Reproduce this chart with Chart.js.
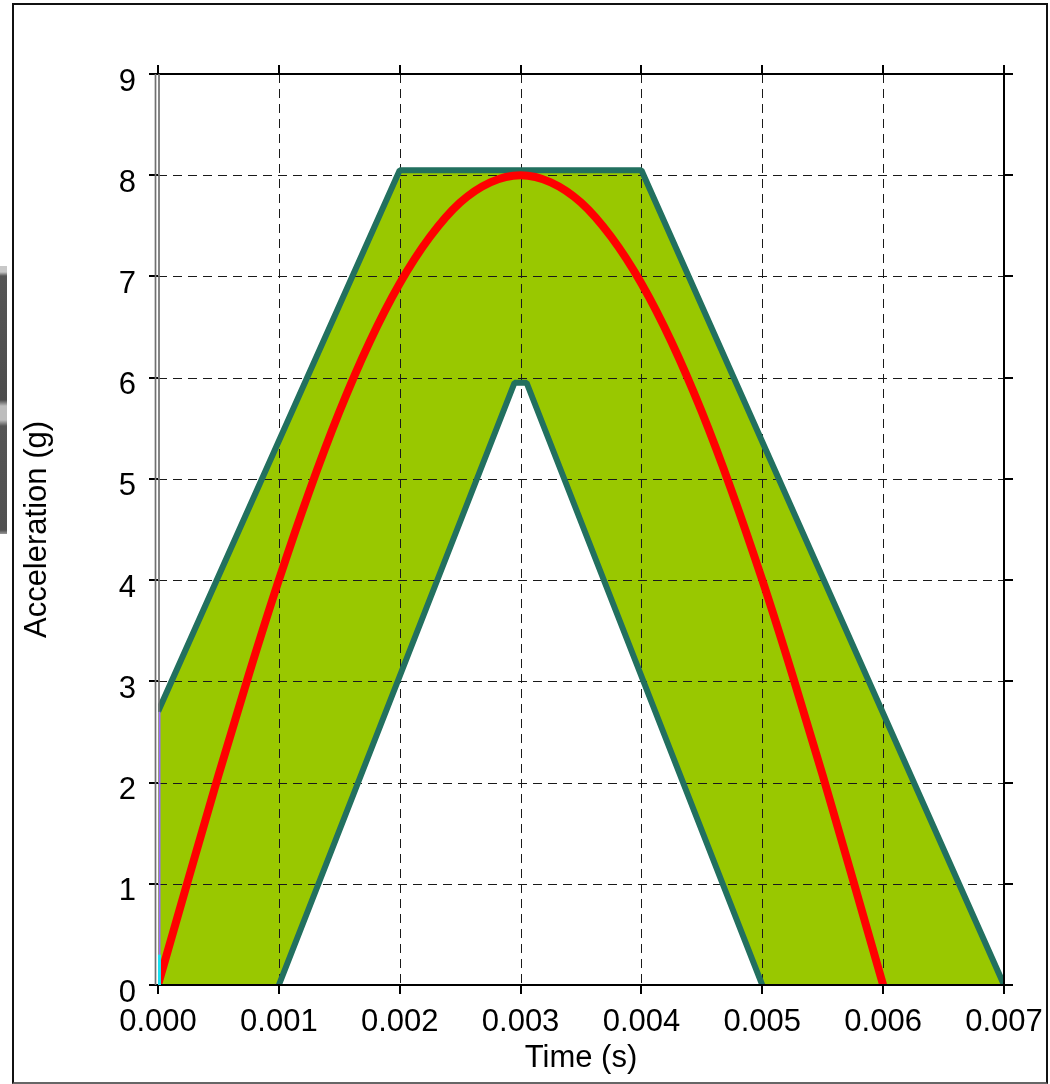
<!DOCTYPE html>
<html>
<head>
<meta charset="utf-8">
<script src="https://cdn.jsdelivr.net/npm/chart.js@4/dist/chart.umd.min.js"></script>
<style>
  html, body { margin:0; padding:0; background:#fff; width:1050px; height:1084px; overflow:hidden; }
  #wrap { position:absolute; left:0; top:0; width:1050px; height:1084px; }
  canvas { position:absolute; left:0; top:0; }
  #frame { position:absolute; left:12px; top:3px; width:1036px; height:1081px; box-sizing:border-box;
           border-left:2.5px solid #111; border-top:2.5px solid #111; border-right:2.5px solid #111; border-bottom:2px solid #666; pointer-events:none; }
  #sliver { position:absolute; left:0; top:266px; width:7px; height:268px;
            background:linear-gradient(to bottom, #c8c8c8 0px, #c8c8c8 6px, #555 10px, #4c4c4c 134px, #bdbdbd 140px, #bdbdbd 154px, #555 160px, #505050 264px, #999 268px); }
</style>
</head>
<body>
<div id="wrap">
  <canvas id="c" width="1050" height="1084"></canvas>
  <div id="sliver"></div>
  <div id="frame"></div>
</div>
<script>
// ---- data ----
const timeTicks  = [0, 0.001, 0.002, 0.003, 0.004, 0.005, 0.006, 0.007];
const accelTicks = [0, 1, 2, 3, 4, 5, 6, 7, 8, 9];

const upperTime  = [0, 0.002, 0.004, 0.007];
const upperAccel = [2.7, 8.05, 8.05, 0];

const lowerTime  = [0.001, 0.00295, 0.00305, 0.005];
const lowerAccel = [0, 5.95, 5.95, 0];

const pulseTime  = [0, 0.00025, 0.0005, 0.00075, 0.001, 0.00125, 0.0015, 0.00175, 0.002, 0.00225, 0.0025, 0.00275, 0.003,
                    0.00325, 0.0035, 0.00375, 0.004, 0.00425, 0.0045, 0.00475, 0.005, 0.00525, 0.0055, 0.00575, 0.006];
const pulseAccel = [0, 1.04, 2.07, 3.06, 4.0, 4.87, 5.66, 6.35, 6.93, 7.39, 7.73, 7.93, 8.0,
                    7.93, 7.73, 7.39, 6.93, 6.35, 5.66, 4.87, 4.0, 3.06, 2.07, 1.04, 0];

const xTitle = 'Time (s)';
const yTitle = 'Acceleration (g)';

// ---- helpers ----
const pts = (xs, ys) => xs.map((x, i) => ({ x: x, y: ys[i] }));
const FILL = '#99c800';
const EDGE = '#22705f';
const PULSE = '#ff0000';
const HOLE_INDEX = 1;

Chart.defaults.font.family = "'Liberation Sans', Arial, sans-serif";
Chart.defaults.color = '#000';

const overlay = {
  id: 'overlay',
  afterDatasetDraw(chart, args) {
    if (args.index !== HOLE_INDEX) return;
    const { ctx, chartArea: a, scales: { x, y } } = chart;
    ctx.save();
    ctx.strokeStyle = '#1a1a1a';
    ctx.lineWidth = 1;
    ctx.setLineDash([9, 6]);
    timeTicks.slice(1, -1).forEach(v => {
      const px = Math.round(x.getPixelForValue(v)) + 0.5;
      ctx.beginPath(); ctx.moveTo(px, a.top); ctx.lineTo(px, a.bottom); ctx.stroke();
    });
    accelTicks.slice(1, -1).forEach(v => {
      const py = Math.round(y.getPixelForValue(v)) + 0.5;
      ctx.beginPath(); ctx.moveTo(a.left, py); ctx.lineTo(a.right, py); ctx.stroke();
    });
    ctx.restore();
  },
  afterDatasetsDraw(chart) {
    const { ctx, chartArea: a, scales: { y } } = chart;
    ctx.save();
    ctx.strokeStyle = '#000';
    ctx.lineWidth = 2;
    ctx.beginPath();
    ctx.moveTo(a.left, a.top); ctx.lineTo(a.right, a.top);
    ctx.moveTo(a.right, a.top); ctx.lineTo(a.right, a.bottom);
    ctx.moveTo(a.left - 2, a.bottom); ctx.lineTo(a.right, a.bottom);
    ctx.stroke();
    // left edge: double grey line, then coloured trace
    const yStart = y.getPixelForValue(upperAccel[0]);
    ctx.lineWidth = 1.7;
    ctx.strokeStyle = '#707070';
    ctx.beginPath(); ctx.moveTo(a.left - 2.5, a.top); ctx.lineTo(a.left - 2.5, a.bottom); ctx.stroke();
    ctx.beginPath(); ctx.moveTo(a.left + 1, a.top); ctx.lineTo(a.left + 1, yStart); ctx.stroke();
    ctx.strokeStyle = '#9a6bff';
    ctx.lineWidth = 2;
    ctx.beginPath(); ctx.moveTo(a.left + 1.5, yStart); ctx.lineTo(a.left + 1.5, a.bottom); ctx.stroke();
    ctx.strokeStyle = '#19e0f0';
    ctx.lineWidth = 3;
    ctx.beginPath(); ctx.moveTo(a.left + 1.5, y.getPixelForValue(0.3)); ctx.lineTo(a.left + 1.5, a.bottom); ctx.stroke();
    ctx.restore();
  }
};

const tickGrid = { display: true, drawOnChartArea: false, drawTicks: true, tickLength: 9, color: '#000', lineWidth: 2 };

new Chart(document.getElementById('c'), {
  type: 'scatter',
  data: {
    datasets: [
      { // green band (upper envelope filled to origin)
        data: pts(upperTime, upperAccel), showLine: true, fill: 'origin',
        backgroundColor: FILL, borderWidth: 0, borderColor: 'rgba(0,0,0,0)', pointRadius: 0, order: 4
      },
      { // white hole under the lower envelope
        data: pts(lowerTime, lowerAccel), showLine: true, fill: 'origin',
        backgroundColor: '#ffffff', borderWidth: 0, borderColor: 'rgba(0,0,0,0)', pointRadius: 0, order: 3
      },
      { // upper tolerance line
        data: pts(upperTime, upperAccel), showLine: true, fill: false,
        borderColor: EDGE, borderWidth: 6, pointRadius: 0, borderJoinStyle: 'bevel', order: 2
      },
      { // lower tolerance line
        data: pts(lowerTime, lowerAccel), showLine: true, fill: false,
        borderColor: EDGE, borderWidth: 6, pointRadius: 0, borderJoinStyle: 'bevel', order: 2
      },
      { // half-sine pulse
        data: pts(pulseTime, pulseAccel), showLine: true, fill: false,
        borderColor: PULSE, borderWidth: 8, pointRadius: 0, cubicInterpolationMode: 'monotone', order: 1
      }
    ]
  },
  options: {
    responsive: false,
    animation: false,
    layout: { padding: 0 },
    plugins: { legend: { display: false }, tooltip: { enabled: false } },
    scales: {
      x: {
        type: 'linear', position: 'bottom', min: 0, max: 0.007,
        afterBuildTicks: s => { s.ticks = timeTicks.map(v => ({ value: v })); },
        afterFit: s => { s.height = 99; s.paddingLeft = 0; s.paddingRight = 0; },
        grid: tickGrid, border: { display: false },
        ticks: { font: { size: 31 }, color: '#000', padding: 10, maxRotation: 0, autoSkip: false,
                 callback: v => Number(v).toFixed(3) },
        title: { display: true, text: xTitle, font: { size: 31 }, color: '#000', padding: { top: 0, bottom: 7 } }
      },
      x2: {
        type: 'linear', position: 'top', min: 0, max: 0.007,
        afterBuildTicks: s => { s.ticks = timeTicks.map(v => ({ value: v })); },
        afterFit: s => { s.height = 74; s.paddingLeft = 0; s.paddingRight = 0; },
        grid: tickGrid, border: { display: false },
        ticks: { display: false }
      },
      y: {
        type: 'linear', position: 'left', min: 0, max: 9,
        afterBuildTicks: s => { s.ticks = accelTicks.map(v => ({ value: v })); },
        afterFit: s => { s.width = 158; s.paddingTop = 0; s.paddingBottom = 0; },
        grid: tickGrid, border: { display: false },
        ticks: { font: { size: 31 }, color: '#000', padding: 13, labelOffset: 8, autoSkip: false },
        title: { display: true, text: yTitle, font: { size: 31 }, color: '#000', padding: { top: 19, bottom: 0 } }
      },
      y2: {
        type: 'linear', position: 'right', min: 0, max: 9,
        afterBuildTicks: s => { s.ticks = accelTicks.map(v => ({ value: v })); },
        afterFit: s => { s.width = 46; s.paddingTop = 0; s.paddingBottom = 0; },
        grid: tickGrid, border: { display: false },
        ticks: { display: false }
      }
    }
  },
  plugins: [overlay]
});
</script>
</body>
</html>
